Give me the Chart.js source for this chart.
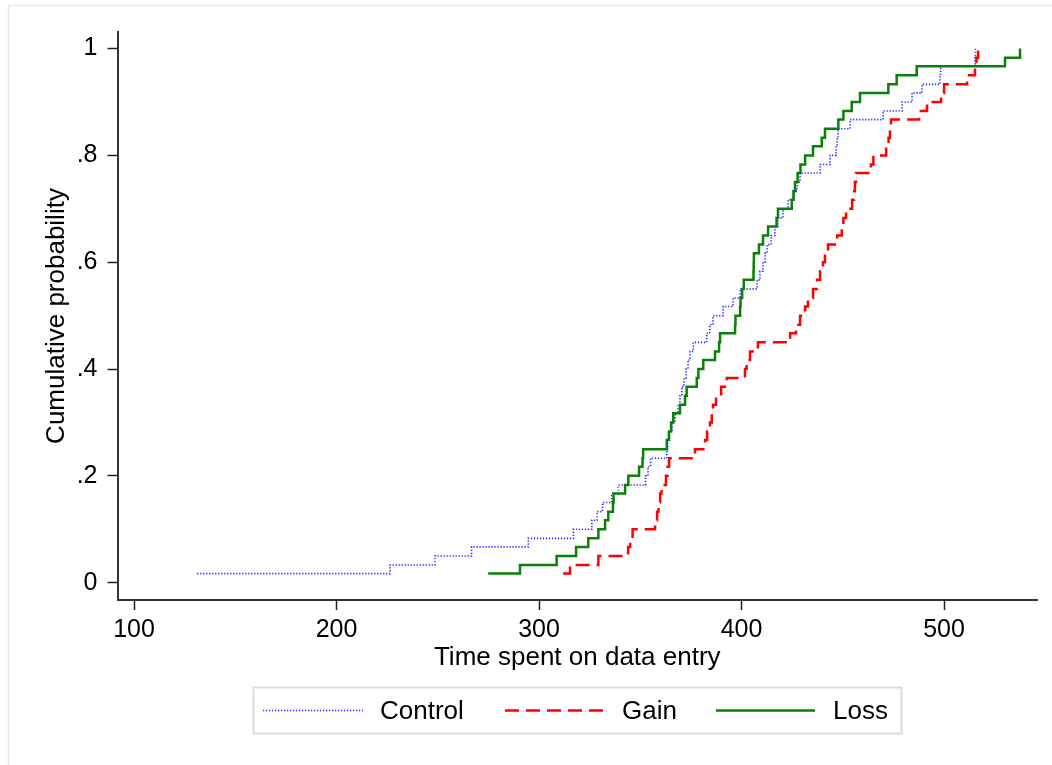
<!DOCTYPE html>
<html>
<head>
<meta charset="utf-8">
<script src="https://cdn.jsdelivr.net/npm/chart.js@4.4.1/dist/chart.umd.min.js"></script>
<style>
  html, body { margin: 0; padding: 0; background: #fff; }
  #wrap { width: 1052px; height: 765px; position: relative; }
</style>
</head>
<body>
<div id="wrap"><canvas id="cdfChart" width="1052" height="765"></canvas></div>
<script>
// Time spent on data entry, sorted, one value per subject
const controlTimes = [131.2, 226.4, 248.6, 266.7, 294.7, 317.0, 326.1, 328.6, 331.4, 335.9,
    339.2, 352.6, 353.8, 355.1, 363.1, 363.5, 363.9, 365.7, 367.2, 368.6,
    369.6, 370.5, 371.6, 372.6, 373.6, 374.6, 376.2, 382.8, 384.3, 385.9,
    390.9, 395.8, 399.3, 407.7, 409.1, 410.6, 411.6, 412.6, 414.6, 416.5,
    418.0, 420.5, 423.0, 425.4, 427.4, 428.9, 438.8, 443.7, 446.7, 447.2,
    447.7, 453.6, 469.9, 479.3, 484.2, 489.1, 498.0, 498.3, 515.3, 515.5];

const gainTimes = [311.9, 315.3, 329.3, 344.0, 345.0, 346.2, 357.3, 358.3, 359.0, 359.8,
    360.5, 362.7, 363.5, 364.2, 377.0, 382.0, 383.0, 384.4, 385.3, 385.9,
    387.4, 389.9, 392.7, 401.7, 402.5, 404.2, 408.1, 424.0, 426.9, 428.9,
    431.4, 432.8, 435.3, 437.3, 438.8, 440.2, 441.2, 442.7, 447.2, 449.5,
    450.3, 451.6, 454.6, 455.6, 456.0, 456.5, 463.9, 465.1, 471.4, 472.6,
    473.3, 473.8, 487.7, 491.6, 498.5, 500.0, 511.4, 515.3, 516.0, 516.8];

const lossTimes = [274.9, 290.6, 308.7, 318.3, 324.3, 329.3, 332.6, 334.2, 336.5, 336.8,
    342.5, 344.1, 349.4, 351.1, 351.4, 363.1, 364.2, 365.2, 366.3, 369.6,
    372.1, 372.9, 377.9, 378.7, 381.1, 386.9, 388.9, 389.4, 396.8, 397.0,
    399.3, 399.5, 400.3, 401.1, 405.9, 406.0, 406.1, 408.6, 410.6, 413.1,
    417.3, 418.0, 424.8, 425.7, 426.4, 427.7, 429.1, 431.4, 435.3, 439.6,
    441.2, 447.8, 450.3, 454.4, 458.5, 472.5, 476.6, 486.5, 530.1, 537.5];

// Cumulative probability at each step (60 subjects per group)
const cumProb = [0.017, 0.033, 0.050, 0.067, 0.083, 0.100, 0.117, 0.133, 0.150, 0.167,
    0.183, 0.200, 0.217, 0.233, 0.250, 0.267, 0.283, 0.300, 0.317, 0.333,
    0.350, 0.367, 0.383, 0.400, 0.417, 0.433, 0.450, 0.467, 0.483, 0.500,
    0.517, 0.533, 0.550, 0.567, 0.583, 0.600, 0.617, 0.633, 0.650, 0.667,
    0.683, 0.700, 0.717, 0.733, 0.750, 0.767, 0.783, 0.800, 0.817, 0.833,
    0.850, 0.867, 0.883, 0.900, 0.917, 0.933, 0.950, 0.967, 0.983, 1.000];

const xTicks = [100, 200, 300, 400, 500];
const yTicks = [0, 0.2, 0.4, 0.6, 0.8, 1];
const seriesNames = ['Control', 'Gain', 'Loss'];

const FONT = 'Liberation Sans, Arial, sans-serif';
const colors = { control: '#1f1fff', gain: '#ff0000', loss: '#0a800a' };

function toPoints(times) {
    return times.map((t, i) => ({ x: t, y: cumProb[i] }));
}

function yLabel(v) {
    if (v === 0) return '0';
    if (v === 1) return '1';
    return String(+v.toFixed(1)).replace(/^0/, '');
}

// page background plus the faint outer frame
const backgroundPlugin = {
    id: 'background',
    beforeDraw(chart) {
        const ctx = chart.ctx;
        ctx.save();
        ctx.fillStyle = '#fff';
        ctx.fillRect(0, 0, chart.width, chart.height);
        ctx.strokeStyle = '#e4ecef';
        ctx.lineWidth = 1.5;
        ctx.beginPath();
        ctx.moveTo(8.5, chart.height);
        ctx.lineTo(8.5, 5.5);
        ctx.lineTo(chart.width, 5.5);
        ctx.stroke();
        ctx.restore();
    }
};

// boxed legend below the axis title
const legendPlugin = {
    id: 'boxLegend',
    afterDraw(chart) {
        const ctx = chart.ctx;
        const box = { x: 253.5, y: 687.5, w: 648, h: 46 };
        const midY = box.y + box.h / 2;
        const items = [
            { x0: 263, x1: 363, tx: 380, color: colors.control, width: 1.6, dash: [1.2, 1.8] },
            { x0: 505, x1: 605, tx: 622, color: colors.gain, width: 2.5, dash: [14, 7] },
            { x0: 716, x1: 815, tx: 833, color: colors.loss, width: 2.5, dash: [] }
        ];
        ctx.save();
        ctx.strokeStyle = '#dcdcdc';
        ctx.lineWidth = 2;
        ctx.strokeRect(box.x, box.y, box.w, box.h);
        items.forEach((it, i) => {
            ctx.beginPath();
            ctx.setLineDash(it.dash);
            ctx.strokeStyle = it.color;
            ctx.lineWidth = it.width;
            ctx.moveTo(it.x0, midY);
            ctx.lineTo(it.x1, midY);
            ctx.stroke();
            ctx.setLineDash([]);
            ctx.fillStyle = '#000';
            ctx.font = '26px ' + FONT;
            ctx.textBaseline = 'middle';
            ctx.textAlign = 'left';
            ctx.fillText(seriesNames[i], it.tx, midY + 1);
        });
        ctx.restore();
    }
};

const ctx = document.getElementById('cdfChart').getContext('2d');

new Chart(ctx, {
    type: 'line',
    data: {
        datasets: [
            {
                label: seriesNames[0],
                data: toPoints(controlTimes),
                borderColor: colors.control,
                borderWidth: 1.6,
                borderDash: [1.2, 1.8],
                stepped: true,
                pointRadius: 0,
                fill: false,
                order: 3
            },
            {
                label: seriesNames[1],
                data: toPoints(gainTimes),
                borderColor: colors.gain,
                borderWidth: 2.5,
                borderDash: [14, 7],
                stepped: true,
                pointRadius: 0,
                fill: false,
                order: 2
            },
            {
                label: seriesNames[2],
                data: toPoints(lossTimes),
                borderColor: colors.loss,
                borderWidth: 2.5,
                stepped: true,
                pointRadius: 0,
                fill: false,
                order: 1
            }
        ]
    },
    options: {
        responsive: false,
        animation: false,
        layout: { padding: { top: 32, right: 15, bottom: 85, left: 0 } },
        plugins: {
            legend: { display: false },
            tooltip: { enabled: false }
        },
        scales: {
            x: {
                type: 'linear',
                min: 91.85,
                max: 545.9,
                afterBuildTicks(scale) {
                    scale.ticks = xTicks.map(v => ({ value: v }));
                },
                afterFit(scale) { scale.height = 80; },
                grid: {
                    drawOnChartArea: false,
                    drawTicks: true,
                    tickLength: 10,
                    tickWidth: 1.5,
                    tickColor: '#222'
                },
                border: { display: true, color: '#333', width: 2 },
                ticks: {
                    color: '#000',
                    padding: 5,
                    maxRotation: 0,
                    font: { family: FONT, size: 25 }
                },
                title: {
                    display: true,
                    text: 'Time spent on data entry',
                    color: '#000',
                    padding: { top: 0, bottom: 7 },
                    font: { family: FONT, size: 26 }
                }
            },
            y: {
                type: 'linear',
                min: -0.0324,
                max: 1.031,
                afterBuildTicks(scale) {
                    scale.ticks = yTicks.map(v => ({ value: v }));
                },
                afterFit(scale) { scale.width = 117.5; },
                grid: {
                    drawOnChartArea: false,
                    drawTicks: true,
                    tickLength: 10,
                    tickWidth: 1.5,
                    tickColor: '#222'
                },
                border: { display: true, color: '#333', width: 2 },
                ticks: {
                    color: '#000',
                    padding: 10,
                    font: { family: FONT, size: 25 },
                    callback: v => yLabel(v)
                },
                title: {
                    display: true,
                    text: 'Cumulative probability',
                    color: '#000',
                    padding: { top: 41, bottom: 0 },
                    font: { family: FONT, size: 26 }
                }
            }
        }
    },
    plugins: [backgroundPlugin, legendPlugin]
});
</script>
</body>
</html>
